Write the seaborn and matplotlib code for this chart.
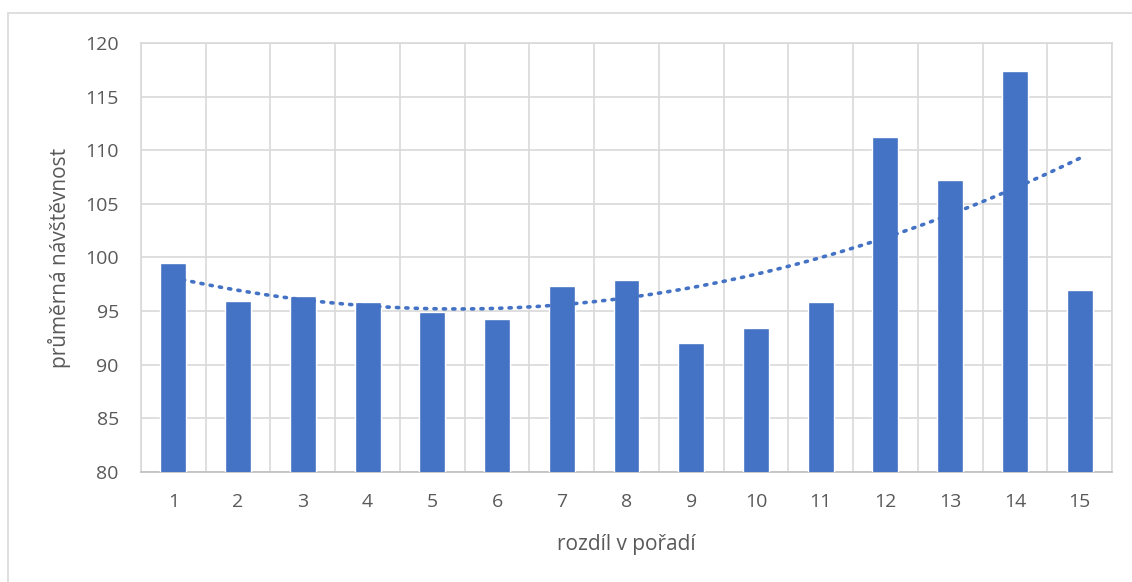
import numpy as np
import pandas as pd
import seaborn as sns
import matplotlib.pyplot as plt
from matplotlib.patches import Rectangle

# Data
rozdil = [1, 2, 3, 4, 5, 6, 7, 8, 9, 10, 11, 12, 13, 14, 15]
navstevnost = [99.5, 95.9, 96.45, 95.85, 94.9, 94.25, 97.3, 97.9, 92.05, 93.4,
               95.85, 111.2, 107.2, 117.4, 97.0]
y_ticks = [80, 85, 90, 95, 100, 105, 110, 115, 120]

df = pd.DataFrame({'rozdil': rozdil, 'navstevnost': navstevnost})

sns.set_style('white')
plt.rcParams['font.family'] = ['Open Sans', 'DejaVu Sans']

blue = '#4472C4'
grid_c = '#D9D9D9'
text_c = '#595959'

fig = plt.figure(figsize=(11.32, 5.82), dpi=100)
ax = fig.add_axes([141 / 1132, 1 - 472 / 582, (1112 - 141) / 1132, (472 - 43) / 582])

sns.barplot(data=df, x='rozdil', y='navstevnost', color=blue, width=0.4,
            saturation=1, ax=ax, zorder=3)

# polynomial (order 2) trendline like Excel
coef = np.polyfit(rozdil, navstevnost, 2)
xs = np.linspace(min(rozdil), max(rozdil), 200)
ax.plot(xs - 1, np.polyval(coef, xs), linestyle=(0, (0.6, 2.0)), color=blue,
        linewidth=2.6, dash_capstyle='round', zorder=4)

ax.set_ylim(80, 120)
ax.set_xlim(-0.5, len(rozdil) - 0.5)
ax.set_yticks(y_ticks)
ax.set_xticks(range(len(rozdil)))
ax.set_xticklabels([str(r) for r in rozdil])
ax.set_xticks(np.arange(-0.5, len(rozdil), 1), minor=True)

ax.grid(False)
ax.yaxis.grid(True, color=grid_c, linewidth=1.2, zorder=0)
ax.xaxis.grid(True, which='minor', color=grid_c, linewidth=1.2, zorder=0)
ax.set_axisbelow(True)

for side in ['top', 'right', 'left']:
    ax.spines[side].set_color(grid_c)
    ax.spines[side].set_linewidth(1.2)
ax.spines['bottom'].set_color('#BFBFBF')
ax.spines['bottom'].set_linewidth(1.2)

ax.tick_params(axis='both', which='both', length=0, labelsize=14, colors=text_c)
ax.tick_params(axis='y', pad=16)
ax.tick_params(axis='x', pad=15)

ax.set_xlabel('rozdíl v pořadí', fontsize=15, color=text_c, labelpad=17)
ax.set_ylabel('průměrná návštěvnost', fontsize=15, color=text_c, labelpad=10)

# outer chart border
fig.patches.append(Rectangle((8 / 1132, -0.05), 1.1, 1 - 13 / 582 + 0.05,
                             transform=fig.transFigure, fill=False,
                             edgecolor=grid_c, linewidth=1.2))

fig.savefig('out.png', dpi=100)
